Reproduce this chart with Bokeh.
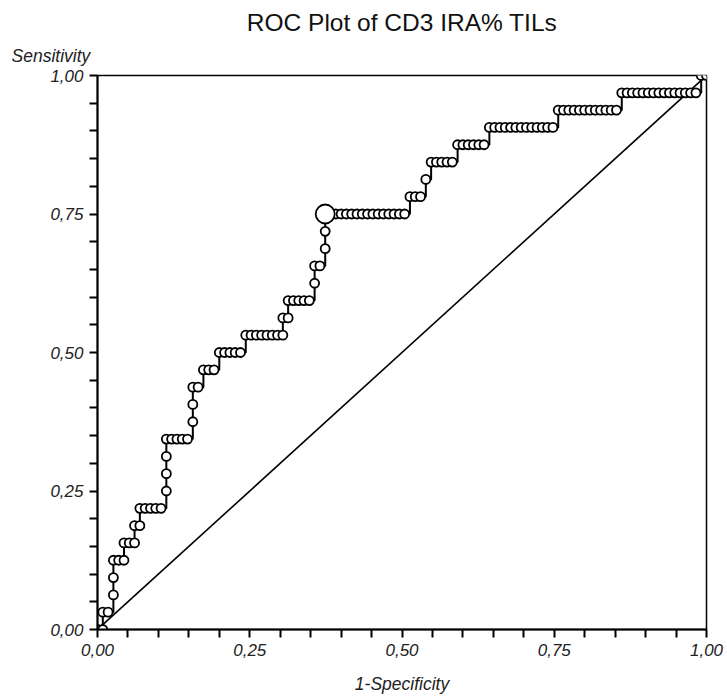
from bokeh.plotting import figure
from bokeh.models import Range1d, FixedTicker, Title
from bokeh.embed import file_html
from bokeh.resources import INLINE

# ---- data ----
N_NEG = 115          # negatives (1-specificity denominator)
N_POS = 32           # positives (sensitivity denominator)

# For each sensitivity level (true-positive count), the false-positive counts
# of the criterion points drawn on that level.
tp_levels = list(range(0, 33))
fp_by_level = [
    [0, 1],
    [1, 2],
    [3],
    [3],
    [3, 4, 5],
    [5, 6, 7],
    [7, 8],
    [8, 9, 10, 11, 12],
    [13],
    [13],
    [13],
    [13, 14, 15, 16, 17],
    [18],
    [18],
    [18, 19],
    [20, 21, 22],
    [23, 24, 25, 26, 27],
    [28, 29, 30, 31, 32, 33, 34, 35],
    [35, 36],
    [36, 37, 38, 39, 40],
    [41],
    [41, 42],
    [43],
    [43],
    [43, 44, 45, 46, 47, 48, 49, 50, 51, 52, 53, 54, 55, 56, 57, 58],
    [59, 60, 61],
    [62],
    [63, 64, 65, 66, 67],
    [68, 69, 70, 71, 72, 73],
    [74, 75, 76, 77, 78, 79, 80, 81, 82, 83, 84, 85, 86],
    [87, 88, 89, 90, 91, 92, 93, 94, 95, 96, 97, 98],
    [99, 100, 101, 102, 103, 104, 105, 106, 107, 108, 109, 110, 111, 112, 113],
    [114, 115],
]
optimal_fp = 43
optimal_tp = 24

major_ticks = [0.0, 0.25, 0.5, 0.75, 1.0]
major_labels = ["0,00", "0,25", "0,50", "0,75", "1,00"]
minor_ticks = [0.05, 0.10, 0.15, 0.20, 0.30, 0.35, 0.40, 0.45,
               0.55, 0.60, 0.65, 0.70, 0.80, 0.85, 0.90, 0.95]

title_text = "ROC Plot of CD3 IRA% TILs"
x_title = "1-Specificity"
y_title = "Sensitivity"

# ---- build points ----
xs, ys = [], []
for tp, fps in zip(tp_levels, fp_by_level):
    for fp in fps:
        xs.append(fp / N_NEG)
        ys.append(tp / N_POS)

FONT = "Liberation Sans"

p = figure(width=727, height=699, x_range=Range1d(0, 1), y_range=Range1d(0, 1),
           output_backend="svg", toolbar_location=None, title=None,
           min_border_left=97, min_border_right=21,
           min_border_top=10, min_border_bottom=70)
p.xgrid.visible = False
p.ygrid.visible = False
p.background_fill_color = "white"
p.border_fill_color = "white"
p.outline_line_color = "black"
p.outline_line_width = 1.5

sens = Title(text=y_title, align="left", offset=-86, text_font=FONT,
             text_font_style="italic", text_font_size="17.5px",
             text_color="#222222", standoff=19)
main = Title(text=title_text, align="center", offset=6, text_font=FONT,
             text_font_style="normal", text_font_size="24.5px",
             text_color="#111111", standoff=-3)
spacer = Title(text=" ", text_font_size="6px", standoff=0)
p.add_layout(sens, "above")
p.add_layout(main, "above")
p.add_layout(spacer, "above")

for ax in (p.xaxis, p.yaxis):
    ax.ticker = FixedTicker(ticks=major_ticks, minor_ticks=minor_ticks)
    ax.major_label_overrides = {t: l for t, l in zip(major_ticks, major_labels)}
    ax.axis_line_width = 2
    ax.axis_line_color = "black"
    ax.major_tick_in = 0
    ax.major_tick_out = 8
    ax.minor_tick_in = 0
    ax.minor_tick_out = 8
    ax.major_tick_line_width = 2
    ax.minor_tick_line_width = 2
    ax.major_tick_line_color = "black"
    ax.minor_tick_line_color = "black"
    ax.major_label_text_font = FONT
    ax.major_label_text_font_style = "italic"
    ax.major_label_text_font_size = "17px"
    ax.major_label_text_color = "#222222"
    ax.major_label_standoff = 6

p.xaxis.axis_label = x_title
p.xaxis.axis_label_text_font = FONT
p.xaxis.axis_label_text_font_style = "italic"
p.xaxis.axis_label_text_font_size = "17.5px"
p.xaxis.axis_label_text_color = "#222222"
p.xaxis.axis_label_standoff = 15

# diagonal reference line
p.line([0, 1], [0, 1], line_color="black", line_width=1.6)

# ROC staircase
p.step(xs, ys, mode="after", line_color="black", line_width=2)
p.scatter(xs, ys, size=9, marker="circle", fill_color="white",
          line_color="black", line_width=1.8)
p.scatter([optimal_fp / N_NEG], [optimal_tp / N_POS], size=19, marker="circle",
          fill_color="white", line_color="black", line_width=1.8)

open("out.html", "w").write(file_html(p, INLINE))
